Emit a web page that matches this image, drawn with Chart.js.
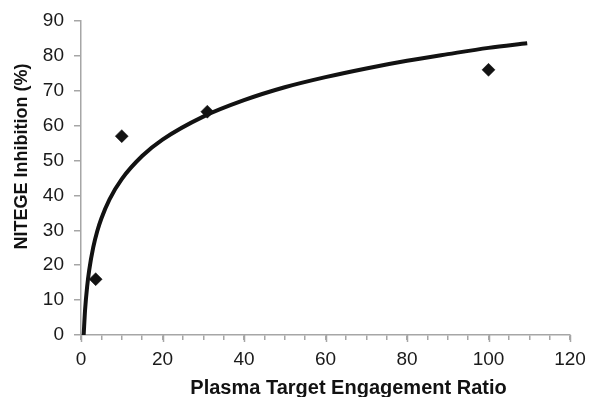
<!DOCTYPE html>
<html>
<head>
<meta charset="utf-8">
<title>NITEGE Inhibition vs Plasma Target Engagement Ratio</title>
<script src="https://cdn.jsdelivr.net/npm/chart.js@4.4.1/dist/chart.umd.min.js"></script>
<style>
  html, body { margin: 0; padding: 0; background: #ffffff; }
  #wrap { width: 590px; height: 397px; position: relative; }
</style>
</head>
<body>
<div id="wrap"><canvas id="chart"></canvas></div>
<script>
// Observed measurements
const engagementRatio = [3.6, 10, 31, 100];
const inhibitionPct = [16, 57, 64, 76];

// Logarithmic trend line, sampled along its course
const trendX = [0.65, 1, 1.5, 2, 3, 4, 5, 7, 10, 15, 20, 30, 40, 50, 60, 70, 80, 90, 100, 109.5];
const trendY = [0, 7.2, 13.8, 18.5, 25.1, 29.8, 33.4, 38.9, 44.7, 51.3, 56.0, 62.6, 67.3, 71.0, 73.9, 76.4, 78.6, 80.5, 82.3, 83.6];

// Axis ranges and labelled ticks
const xMin = 0, xMax = 120, xMinorStep = 5, xLabelStep = 20;
const yMin = 0, yMax = 90, yStep = 10;

const xTitle = 'Plasma Target Engagement Ratio';
const yTitle = 'NITEGE Inhibition (%)';

const axisGray = '#a6a6a6';
const inkColor = '#121212';
const fontFamily = '"Liberation Sans", Arial, Helvetica, sans-serif';

Chart.defaults.font.family = fontFamily;

// Longer marks at the labelled x ticks, plus axis titles
const axisDecor = {
  id: 'axisDecor',
  afterDraw(chart) {
    const { ctx, chartArea, scales } = chart;
    const xs = scales.x;
    ctx.save();
    ctx.strokeStyle = axisGray;
    ctx.lineWidth = 1.5;
    for (let v = xMin; v <= xMax; v += xLabelStep) {
      const px = Math.round(xs.getPixelForValue(v)) + 0.5;
      ctx.beginPath();
      ctx.moveTo(px, chartArea.bottom);
      ctx.lineTo(px, chartArea.bottom + 7);
      ctx.stroke();
    }
    ctx.fillStyle = inkColor;
    ctx.textAlign = 'center';
    ctx.textBaseline = 'alphabetic';
    ctx.font = 'bold 20px ' + fontFamily;
    ctx.fillText(xTitle, chartArea.left + chartArea.width / 2 + 23, chartArea.bottom + 58.5);
    ctx.font = 'bold 18px ' + fontFamily;
    ctx.translate(chartArea.left - 54.5, chartArea.top + chartArea.height / 2 - 21.5);
    ctx.rotate(-Math.PI / 2);
    ctx.fillText(yTitle, 0, 0);
    ctx.restore();
  }
};

const ctx = document.getElementById('chart');
new Chart(ctx, {
  type: 'scatter',
  data: {
    datasets: [
      {
        label: 'Trend',
        type: 'line',
        data: trendX.map((x, i) => ({ x, y: trendY[i] })),
        borderColor: inkColor,
        borderWidth: 4,
        borderCapStyle: 'butt',
        pointRadius: 0,
        fill: false,
        cubicInterpolationMode: 'monotone',
        order: 2
      },
      {
        label: 'Observed',
        data: engagementRatio.map((x, i) => ({ x, y: inhibitionPct[i] })),
        pointStyle: 'rectRot',
        pointRadius: 6.5,
        pointHoverRadius: 6.5,
        backgroundColor: inkColor,
        borderColor: inkColor,
        borderWidth: 0.5,
        order: 1
      }
    ]
  },
  options: {
    responsive: true,
    maintainAspectRatio: false,
    animation: false,
    layout: { padding: { top: 21, right: 20, left: 0, bottom: 0 } },
    plugins: {
      legend: { display: false },
      tooltip: { enabled: false }
    },
    scales: {
      x: {
        type: 'linear',
        min: xMin,
        max: xMax,
        afterFit(scale) {
          scale.height = 62;
          scale.paddingLeft = 0;
          scale.paddingRight = 0;
        },
        afterBuildTicks(scale) {
          const t = [];
          for (let v = xMin; v <= xMax; v += xMinorStep) t.push({ value: v });
          scale.ticks = t;
        },
        ticks: {
          autoSkip: false,
          maxRotation: 0,
          padding: 8,
          color: '#1a1a1a',
          font: { size: 19 },
          callback: (v) => (v % xLabelStep === 0 ? String(v) : '')
        },
        grid: {
          drawOnChartArea: false,
          drawTicks: true,
          tickLength: 5,
          color: axisGray,
          lineWidth: 1.5
        },
        border: { color: axisGray, width: 1.5 }
      },
      y: {
        type: 'linear',
        min: yMin,
        max: yMax,
        afterFit(scale) {
          scale.width = 81;
          scale.paddingTop = 0;
          scale.paddingBottom = 0;
        },
        ticks: {
          stepSize: yStep,
          padding: 10,
          color: '#1a1a1a',
          font: { size: 19 }
        },
        grid: {
          drawOnChartArea: false,
          drawTicks: true,
          tickLength: 7,
          color: axisGray,
          lineWidth: 1.5
        },
        border: { color: axisGray, width: 1.5 }
      }
    }
  },
  plugins: [axisDecor]
});
</script>
</body>
</html>
